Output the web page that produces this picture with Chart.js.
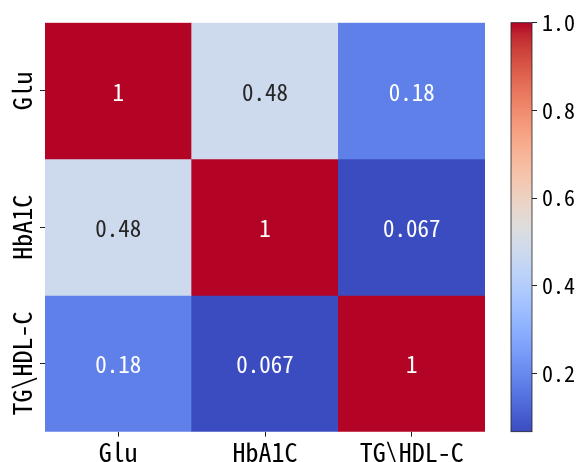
<!DOCTYPE html>
<html>
<head>
<meta charset="utf-8">
<script src="https://cdn.jsdelivr.net/npm/chart.js@4/dist/chart.umd.min.js"></script>
<style>
  html, body { margin: 0; padding: 0; background: #fff; }
  #wrap { position: relative; width: 579px; height: 462px; }
  #wrap canvas { position: absolute; left: 0; top: 0; }
</style>
</head>
<body>
<div id="wrap">
  <canvas id="heat" width="579" height="462"></canvas>
  <canvas id="bar" width="579" height="462"></canvas>
</div>
<script>
// Correlation matrix (rows top to bottom, columns left to right)
const variables = ['Glu', 'HbA1C', 'TG\\HDL-C'];
const rowGlu = [1, 0.48, 0.18];
const rowHbA1C = [0.48, 1, 0.067];
const rowTGHDL = [0.18, 0.067, 1];
const cellLabels = [['1', '0.48', '0.18'], ['0.48', '1', '0.067'], ['0.18', '0.067', '1']];
const colorbarTicks = [0.2, 0.4, 0.6, 0.8, 1.0];
const vmin = 0.067;
const vmax = 1;

const rows = [rowGlu, rowHbA1C, rowTGHDL];

// coolwarm colormap, 33 evenly spaced RGB samples (0..1)
const CW_R = [0.2298, 0.2662, 0.3039, 0.3428, 0.3830, 0.4244, 0.4667, 0.5096, 0.5530, 0.5963, 0.6392, 0.6813, 0.7222, 0.7615, 0.7987, 0.8335, 0.8654,
              0.8978, 0.9241, 0.9445, 0.9589, 0.9673, 0.9700, 0.9668, 0.9580, 0.9437, 0.9239, 0.8990, 0.8692, 0.8346, 0.7956, 0.7525, 0.7057];
const CW_G = [0.2987, 0.3531, 0.4065, 0.4588, 0.5094, 0.5581, 0.6046, 0.6483, 0.6889, 0.7261, 0.7596, 0.7890, 0.8140, 0.8343, 0.8498, 0.8602, 0.8654,
              0.8489, 0.8274, 0.8009, 0.7698, 0.7341, 0.6943, 0.6504, 0.6028, 0.5518, 0.4973, 0.4396, 0.3783, 0.3129, 0.2413, 0.1572, 0.0156];
const CW_B = [0.7537, 0.8015, 0.8450, 0.8837, 0.9174, 0.9456, 0.9682, 0.9848, 0.9954, 0.9998, 0.9982, 0.9904, 0.9766, 0.9569, 0.9317, 0.9011, 0.8654,
              0.8209, 0.7745, 0.7267, 0.6780, 0.6288, 0.5794, 0.5303, 0.4818, 0.4342, 0.3880, 0.3432, 0.3003, 0.2593, 0.2205, 0.1841, 0.1502];

function cmapRGB(t) {
  t = Math.max(0, Math.min(1, t));
  const p = t * (CW_R.length - 1);
  const i = Math.min(Math.floor(p), CW_R.length - 2);
  const f = p - i;
  const lerp = (arr) => Math.round(255 * (arr[i] + (arr[i + 1] - arr[i]) * f));
  return [lerp(CW_R), lerp(CW_G), lerp(CW_B)];
}
function colorFor(v) {
  const c = cmapRGB((v - vmin) / (vmax - vmin));
  return `rgb(${c[0]},${c[1]},${c[2]})`;
}

const FONT = "'Noto Sans Mono CJK SC', 'DejaVu Sans Mono', monospace";
const ANNOT_FS = 23;
const TICK_FS = 26;
const CBAR_FS = 22;
Chart.defaults.font.family = FONT;
Chart.defaults.color = '#000';

const TOP = 22.7, BOTTOM = 431.7, LEFT = 45, RIGHT = 485;
const CB_LEFT = 511, CB_RIGHT = 532;

// Cell value text
const cellText = {
  id: 'cellText',
  afterDatasetsDraw(chart) {
    const ctx = chart.ctx;
    ctx.save();
    ctx.font = `${ANNOT_FS}px ${FONT}`;
    ctx.textAlign = 'center';
    ctx.textBaseline = 'middle';
    chart.data.datasets.forEach((ds, r) => {
      chart.getDatasetMeta(r).data.forEach((el, c) => {
        const v = ds.data[c].v;
        const rgb = cmapRGB((v - vmin) / (vmax - vmin));
        const lum = (0.299 * rgb[0] + 0.587 * rgb[1] + 0.114 * rgb[2]) / 255;
        ctx.fillStyle = lum > 0.6 ? '#262626' : '#ffffff';
        ctx.fillText(cellLabels[r][c], el.x, (el.y + el.base) / 2 + 1);
      });
    });
    ctx.restore();
  }
};

// Rotated row names on the left
const rowNames = {
  id: 'rowNames',
  afterDraw(chart) {
    const ctx = chart.ctx;
    const ys = chart.scales.y;
    ctx.save();
    ctx.font = `${TICK_FS}px ${FONT}`;
    ctx.fillStyle = '#000';
    ctx.textAlign = 'center';
    ctx.textBaseline = 'alphabetic';
    variables.forEach((name, r) => {
      ctx.save();
      ctx.translate(32, ys.getPixelForValue(r + 0.5));
      ctx.rotate(-Math.PI / 2);
      ctx.fillText(name, 0, 0);
      ctx.restore();
    });
    ctx.restore();
  }
};

new Chart(document.getElementById('heat'), {
  type: 'bar',
  data: {
    labels: variables,
    datasets: rows.map((vals, r) => ({
      data: vals.map((v, c) => ({ x: variables[c], y: [r, r + 1], v })),
      backgroundColor: (ctx) => colorFor(ctx.raw.v),
      borderWidth: 0,
      grouped: false,
      barPercentage: 1,
      categoryPercentage: 1
    }))
  },
  options: {
    responsive: false,
    animation: false,
    layout: { padding: { left: 0, top: TOP, right: 579 - RIGHT, bottom: 0 } },
    plugins: { legend: { display: false }, tooltip: { enabled: false } },
    scales: {
      x: {
        type: 'category',
        offset: true,
        grid: { display: true, offset: false, drawOnChartArea: false, drawTicks: true, tickLength: 5, color: '#222', lineWidth: 1 },
        border: { display: false },
        ticks: { padding: 0, color: '#000', maxRotation: 0, font: { size: TICK_FS } },
        afterFit(scale) { scale.height = 462 - BOTTOM; }
      },
      y: {
        type: 'linear',
        min: 0,
        max: 3,
        reverse: true,
        afterBuildTicks(scale) { scale.ticks = [0.5, 1.5, 2.5].map(v => ({ value: v })); },
        grid: { display: true, drawOnChartArea: false, drawTicks: true, tickLength: 5, color: '#222', lineWidth: 1 },
        border: { display: false },
        ticks: { display: false },
        afterFit(scale) { scale.width = LEFT; }
      }
    }
  },
  plugins: [cellText, rowNames]
});

// Colour bar
const gradientFill = {
  id: 'gradientFill',
  beforeDatasetsDraw(chart) {
    const ctx = chart.ctx;
    const a = chart.chartArea;
    const ys = chart.scales.y;
    const g = ctx.createLinearGradient(0, ys.getPixelForValue(vmin), 0, ys.getPixelForValue(vmax));
    for (let i = 0; i < CW_R.length; i++) {
      const c = [CW_R[i], CW_G[i], CW_B[i]].map(x => Math.round(255 * x));
      g.addColorStop(i / (CW_R.length - 1), `rgb(${c[0]},${c[1]},${c[2]})`);
    }
    ctx.save();
    ctx.fillStyle = g;
    ctx.fillRect(a.left, a.top, a.right - a.left, a.bottom - a.top);
    ctx.strokeStyle = '#222';
    ctx.lineWidth = 0.8;
    ctx.strokeRect(a.left, a.top, a.right - a.left, a.bottom - a.top);
    ctx.restore();
  }
};

new Chart(document.getElementById('bar'), {
  type: 'scatter',
  data: { datasets: [{ data: [] }] },
  options: {
    responsive: false,
    animation: false,
    layout: { padding: { left: CB_LEFT, top: TOP, right: 0, bottom: 462 - BOTTOM } },
    plugins: { legend: { display: false }, tooltip: { enabled: false } },
    scales: {
      x: { display: false },
      y: {
        type: 'linear',
        position: 'right',
        min: vmin,
        max: vmax,
        afterBuildTicks(scale) { scale.ticks = colorbarTicks.map(v => ({ value: v })); },
        grid: { display: true, drawOnChartArea: false, drawTicks: true, tickLength: 5, color: '#222', lineWidth: 1 },
        border: { display: false },
        ticks: { padding: 5, color: '#000', font: { size: CBAR_FS }, callback: (v) => Number(v).toFixed(1) },
        afterFit(scale) { scale.width = 579 - CB_RIGHT; }
      }
    }
  },
  plugins: [gradientFill]
});
</script>
</body>
</html>
